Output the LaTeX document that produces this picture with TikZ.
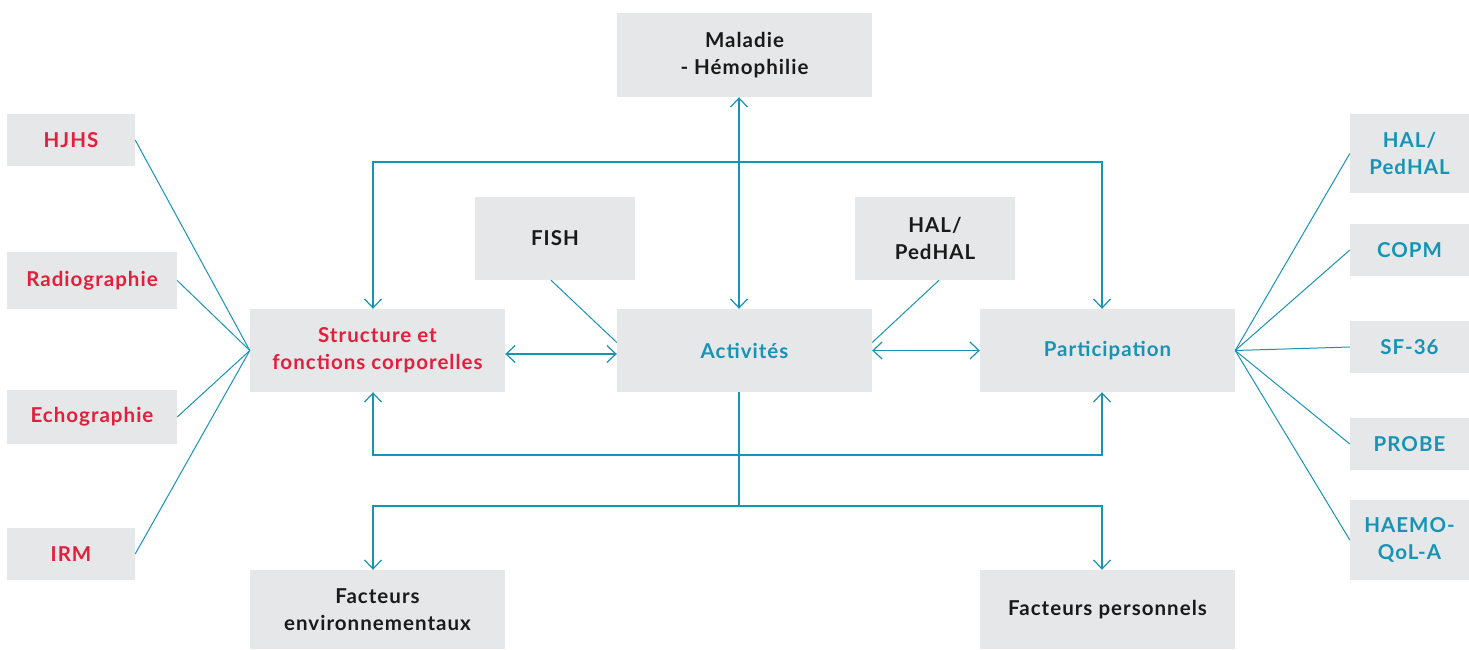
\documentclass[tikz,border=0pt]{standalone}
\usepackage{fontspec}
\setmainfont{Lato}[LetterSpace=5]
\usepackage{xcolor}
\usepackage{tikz}
\usetikzlibrary{positioning}
\usetikzlibrary{arrows.meta}

\definecolor{boxgray}{HTML}{E6E7E8}
\definecolor{icfred}{HTML}{E31F3D}
\definecolor{icfblue}{HTML}{1893B5}
\definecolor{icfblack}{HTML}{1A1A1A}

\begin{document}
\begin{tikzpicture}[x=1pt,y=-1pt,
  box/.style={fill=boxgray, inner sep=0pt, align=center, font=\fontsize{20.5}{27}\selectfont\bfseries},
  bigbox/.style={box, minimum width=255pt, minimum height=83pt},
  midbox/.style={box, minimum width=160pt, minimum height=83pt},
  redtxt/.style={text=icfred},
  bluetxt/.style={text=icfblue},
  blacktxt/.style={text=icfblack},
  link/.style={draw=icfblue, line width=1.2pt, >={Straight Barb[length=9pt,width=17pt]}}
]

\useasboundingbox (0,0) rectangle (1469,649);

% Central row
\node[bigbox, redtxt] (struct) at (377.5,350.5) {Structure et\\fonctions corporelles};
\node[bigbox, bluetxt] (act) at (744.5,350.5) {Activités};
\node[bigbox, bluetxt] (part) at (1107.5,350.5) {Participation};

% Top and bottom boxes
\node[bigbox, blacktxt, minimum height=84pt] (mal) at (744.5,55) {Maladie\\- Hémophilie};
\node[bigbox, blacktxt, minimum height=79pt] (env) at (377.5,609.5) {Facteurs\\environnementaux};
\node[bigbox, blacktxt, minimum height=79pt] (pers) at (1107.5,609.5) {Facteurs personnels};

% Activity measures
\node[midbox, blacktxt] (fish) at (555,238.5) {FISH};
\node[midbox, blacktxt] (halmid) at (935,238.5) {HAL/\\PedHAL};

% Left measures
\node[box, redtxt, minimum width=128pt, minimum height=52pt] (hjhs) at (71,140) {HJHS};
\node[box, redtxt, minimum width=170pt, minimum height=57pt] (radio) at (92,280.5) {Radiographie};
\node[box, redtxt, minimum width=170pt, minimum height=54pt] (echo) at (92,417) {Echographie};
\node[box, redtxt, minimum width=128pt, minimum height=52pt] (irm) at (71,554) {IRM};

% Right measures
\node[box, bluetxt, minimum width=119pt, minimum height=79pt] (halr) at (1409.5,153.5) {HAL/\\PedHAL};
\node[box, bluetxt, minimum width=119pt, minimum height=52pt] (copm) at (1409.5,250) {COPM};
\node[box, bluetxt, minimum width=119pt, minimum height=52pt] (sf) at (1409.5,347) {SF-36};
\node[box, bluetxt, minimum width=119pt, minimum height=52pt] (probe) at (1409.5,444) {PROBE};
\node[box, bluetxt, minimum width=119pt, minimum height=80pt] (haemo) at (1409.5,540) {HAEMO-\\QoL-A};

% Junctions
\coordinate (topmid) at (739,162);
\coordinate (upmid) at (739,455);
\coordinate (botmid) at (739,506);

% Horizontal arrows
\draw[link,<->] ([yshift=-3.5pt]struct.east) -- ([yshift=-3.5pt]act.west);
\draw[link,<->] (act.east) -- (part.west);

% Disease and top loop
\draw[link,<->] ([xshift=-5.5pt]mal.south) -- ([xshift=-5.5pt]act.north);
\draw[link,->] (topmid) -| ([xshift=-4.5pt]struct.north);
\draw[link,->] (topmid) -| ([xshift=-5.5pt]part.north);

% Bottom loops
\draw[link] ([xshift=-5.5pt]act.south) -- (botmid);
\draw[link,->] (upmid) -| ([xshift=-4.5pt]struct.south);
\draw[link,->] (upmid) -| ([xshift=-5.5pt]part.south);
\draw[link,->] (botmid) -| ([xshift=-4.5pt]env.north);
\draw[link,->] (botmid) -| ([xshift=-5.5pt]pers.north);

% Measures to activities
\draw[link, line width=1pt] ([xshift=-4pt]fish.south) -- ([yshift=8pt]act.west);
\draw[link, line width=1pt] ([xshift=4pt]halmid.south) -- ([yshift=8pt]act.east);

% Left fan
\foreach \m in {hjhs,radio,echo,irm}
  \draw[link, line width=1pt] (struct.west) -- (\m.east);

% Right fan
\foreach \m in {halr,copm,sf,probe,haemo}
  \draw[link, line width=1pt] (part.east) -- (\m.west);

\end{tikzpicture}
\end{document}
